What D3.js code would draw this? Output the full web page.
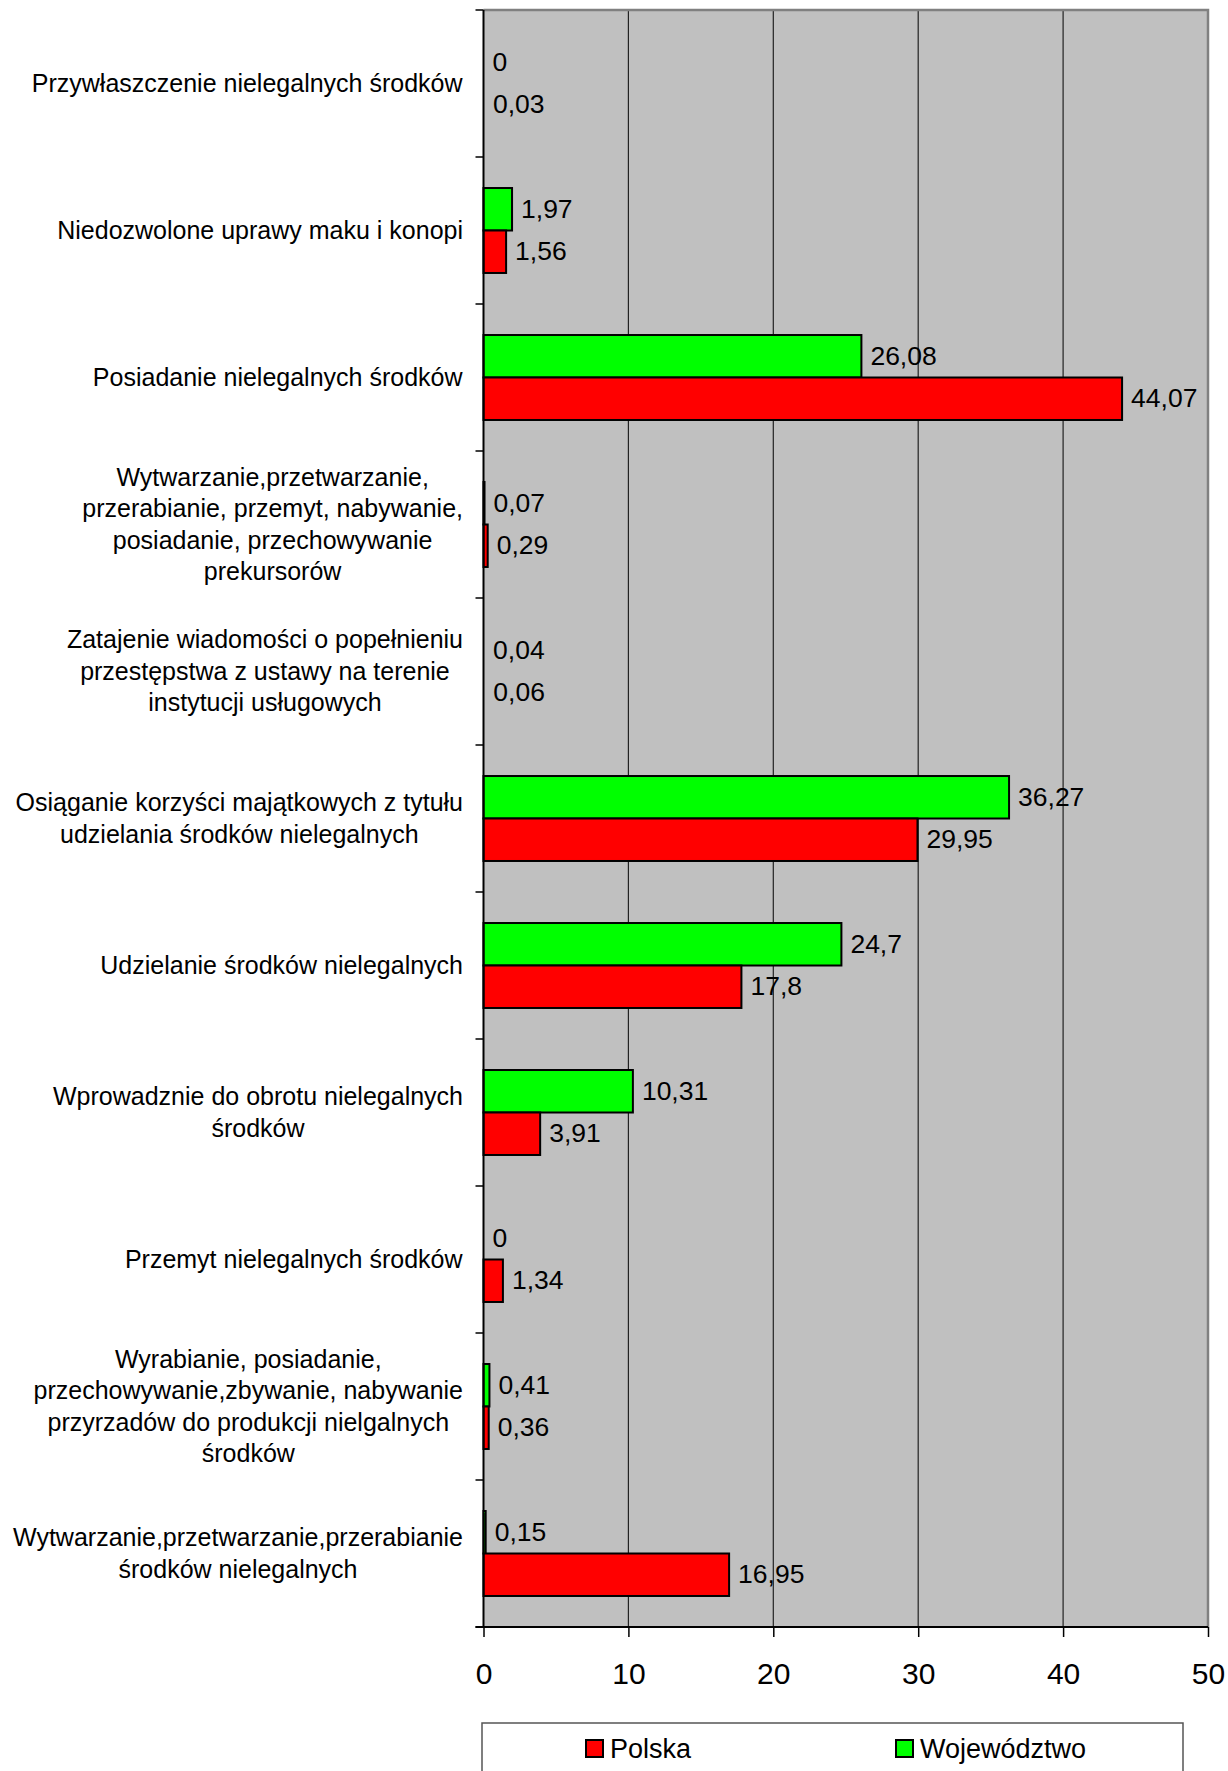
<!DOCTYPE html>
<html>
<head>
<meta charset="utf-8">
<script src="https://cdn.jsdelivr.net/npm/d3@7"></script>
<style>
  body { margin: 0; background: #fff; }
  svg { display: block; font-family: "Liberation Sans", Arial, sans-serif; }
</style>
</head>
<body>
<svg id="chart" width="1228" height="1771"></svg>
<script>
// kategorie od góry do dołu
const categories = [
    "Przywłaszczenie nielegalnych środków",
    "Niedozwolone uprawy maku i konopi",
    "Posiadanie nielegalnych środków",
    "Wytwarzanie,przetwarzanie,\nprzerabianie, przemyt, nabywanie,\nposiadanie, przechowywanie\nprekursorów",
    "Zatajenie wiadomości o popełnieniu\nprzestępstwa z ustawy na terenie\ninstytucji usługowych",
    "Osiąganie korzyści majątkowych z tytułu\nudzielania środków nielegalnych",
    "Udzielanie środków nielegalnych",
    "Wprowadznie do obrotu nielegalnych\nśrodków",
    "Przemyt nielegalnych środków",
    "Wyrabianie, posiadanie,\nprzechowywanie,zbywanie, nabywanie\nprzyrzadów do produkcji nielgalnych\nśrodków",
    "Wytwarzanie,przetwarzanie,przerabianie\nśrodków nielegalnych"
]
const wojewodztwo = [0, 1.97, 26.08, 0.07, 0.04, 36.27, 24.7, 10.31, 0, 0.41, 0.15]
const polska = [0.03, 1.56, 44.07, 0.29, 0.06, 29.95, 17.8, 3.91, 1.34, 0.36, 16.95]
const xTicks = [0, 10, 20, 30, 40, 50]
const seriesNames = ["Województwo", "Polska"]   // kolejność słupków w grupie (góra, dół)
const legendNames = ["Polska", "Województwo"]
const colors = { "Polska": "#ff0000", "Województwo": "#00ff00" }

const plotLeft = 483.5, plotRight = 1208, plotTop = 10, plotBottom = 1627

const svg = d3.select('#chart')

const x = d3.scaleLinear().domain([0, 50]).range([plotLeft, plotRight])
const y = d3.scaleBand().domain(d3.range(categories.length)).range([plotTop, plotBottom])
const inner = d3.scaleBand().domain(seriesNames).range([0, y.bandwidth()]).paddingOuter(0.73).paddingInner(0)

// tło
svg.append('rect')
    .attr('x', plotLeft).attr('y', plotTop)
    .attr('width', plotRight - plotLeft).attr('height', plotBottom - plotTop)
    .style('fill', '#c0c0c0')

// linie siatki
svg.append('g').selectAll('line')
    .data(xTicks.filter(t => t > 0 && t < 50))
    .enter().append('line')
    .attr('x1', d => x(d)).attr('x2', d => x(d))
    .attr('y1', plotTop).attr('y2', plotBottom)
    .style('stroke', '#222').style('stroke-width', 1.2)

// ramka górna i prawa
svg.append('path')
    .attr('d', `M${plotLeft},${plotTop}H${plotRight}V${plotBottom}`)
    .style('fill', 'none').style('stroke', '#808080').style('stroke-width', 2.5)

// słupki
const rows = categories.map((c, i) => ({ i, "Województwo": wojewodztwo[i], "Polska": polska[i] }))
const groups = svg.append('g').selectAll('g')
    .data(rows).enter().append('g')
    .attr('transform', d => `translate(0,${y(d.i)})`)

groups.selectAll('rect')
    .data(d => seriesNames.map(s => ({ s, v: d[s] })))
    .enter().append('rect')
    .attr('x', x(0))
    .attr('y', d => inner(d.s))
    .attr('width', d => x(d.v) - x(0))
    .attr('height', inner.bandwidth())
    .style('fill', d => colors[d.s])
    .style('stroke', '#000').style('stroke-width', 2)
    .style('display', d => (x(d.v) - x(0) < 1) ? 'none' : null)

groups.selectAll('text')
    .data(d => seriesNames.map(s => ({ s, v: d[s] })))
    .enter().append('text')
    .attr('x', d => x(d.v) + 9)
    .attr('y', d => inner(d.s) + inner.bandwidth() / 2)
    .attr('dy', '0.33em')
    .style('font-size', '26.5px')
    .text(d => String(d.v).replace('.', ','))

// oś Y
const yAxis = svg.append('g')
yAxis.append('line')
    .attr('x1', plotLeft).attr('x2', plotLeft).attr('y1', plotTop).attr('y2', plotBottom)
    .style('stroke', '#000').style('stroke-width', 2)
yAxis.selectAll('.tk')
    .data(d3.range(categories.length + 1))
    .enter().append('line')
    .attr('x1', plotLeft - 8).attr('x2', plotLeft)
    .attr('y1', d => plotTop + d * y.step()).attr('y2', d => plotTop + d * y.step())
    .style('stroke', '#000').style('stroke-width', 1.5)

// etykiety kategorii
const lineH = 31.5
const labelRight = 463
categories.forEach((c, i) => {
    const lines = c.split('\n')
    const g = svg.append('g')
    const cy = y(i) + y.bandwidth() / 2
    const t = g.append('text')
        .style('font-size', '25px')
        .attr('text-anchor', 'middle')
    lines.forEach((ln, k) => {
        t.append('tspan')
            .attr('x', 0)
            .attr('y', cy + (k - (lines.length - 1) / 2) * lineH)
            .attr('dy', '0.33em')
            .text(ln)
    })
    const w = t.node().getBBox().width
    t.attr('transform', `translate(${labelRight - w / 2},0)`)
})

// oś X
const xAxis = svg.append('g').attr('transform', `translate(0,${plotBottom})`)
    .call(d3.axisBottom(x).tickValues(xTicks).tickSize(10).tickPadding(26).tickFormat(d3.format('d')))
xAxis.select('.domain').attr('d', `M${plotLeft - 8},0H${plotRight}`).style('stroke-width', 2)
xAxis.selectAll('.tick line').style('stroke-width', 1.5)
xAxis.selectAll('.tick text')
    .style('font-size', '30px')
    .style('font-family', '"Liberation Sans", Arial, sans-serif')
    .attr('fill', '#000')

// legenda
const legend = svg.append('g')
legend.append('rect')
    .attr('x', 482).attr('y', 1723)
    .attr('width', 701).attr('height', 100)
    .style('fill', '#fff').style('stroke', '#555').style('stroke-width', 1.5)
const legendX = [586, 896]
legendNames.forEach((n, i) => {
    legend.append('rect')
        .attr('x', legendX[i]).attr('y', 1740)
        .attr('width', 17).attr('height', 17)
        .style('fill', colors[n]).style('stroke', '#000').style('stroke-width', 2)
    legend.append('text')
        .attr('x', legendX[i] + 24).attr('y', 1758)
        .style('font-size', '27px')
        .text(n)
})
</script>
</body>
</html>
